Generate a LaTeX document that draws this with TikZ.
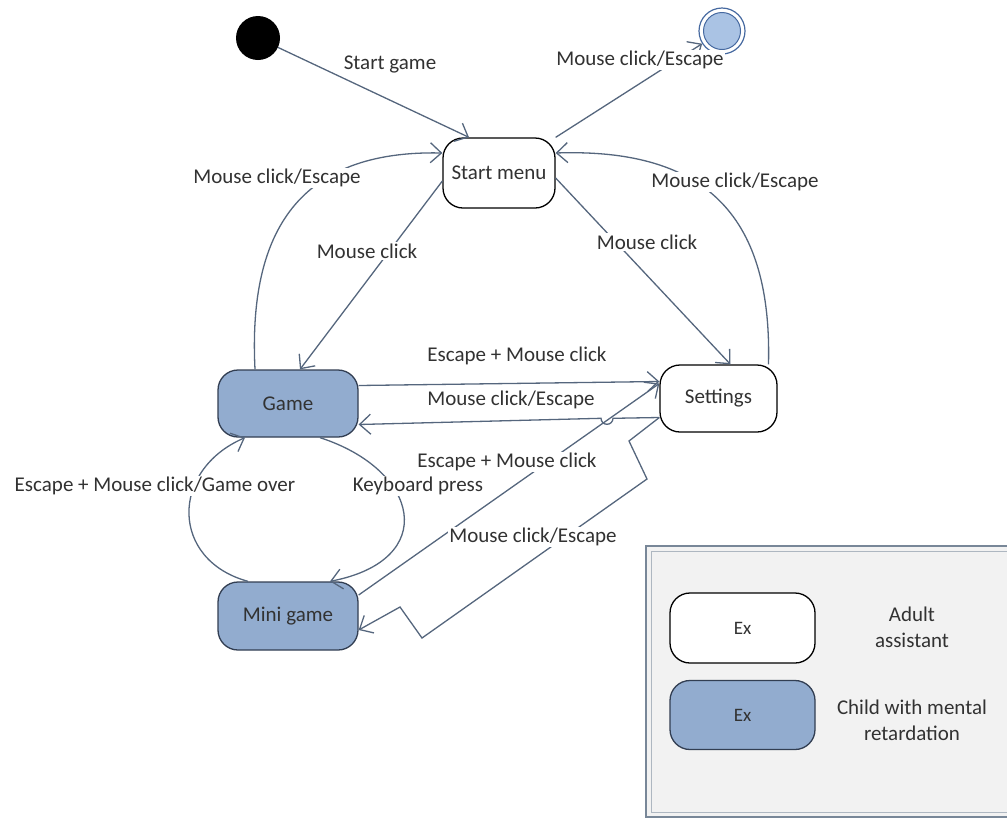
\documentclass[tikz,border=0pt]{standalone}
\usepackage{fontspec}
\setmainfont{Carlito}
\usetikzlibrary{arrows.meta}
\definecolor{stblue}{RGB}{146,172,207}
\definecolor{stborder}{RGB}{50,62,82}
\definecolor{conn}{RGB}{85,102,125}
\definecolor{txt}{RGB}{50,50,50}
\definecolor{legfill}{RGB}{242,242,242}
\definecolor{legline}{RGB}{120,135,152}
\definecolor{finfill}{RGB}{170,195,228}
\definecolor{finline}{RGB}{70,105,160}
\tikzset{
  state/.style={draw=black, line width=1.3pt, rounded corners=20pt, fill=white,
    text=txt, font=\fontsize{21}{25}\selectfont, inner sep=0pt},
  child/.style={state, fill=stblue, draw=stborder},
  lbl/.style={text=txt, font=\fontsize{21}{25}\selectfont, inner sep=1.5pt, fill=white},
  conn/.style={draw=conn, line width=1.3pt, -{Straight Barb[length=11pt,width=20pt,line width=1.3pt]}},
}
\begin{document}
\begin{tikzpicture}[x=1pt,y=-1pt]
\useasboundingbox (0,0) rectangle (1007,823);
% legend frame
\fill[legfill] (645,545) rectangle (1015,818);
\draw[legline, line width=2.2pt] (646,546) rectangle (1015,817);
\draw[legline!60, line width=1pt] (651,551) rectangle (1015,812);
% states
\node[circle, fill=black, minimum size=44pt, inner sep=0pt] (init) at (258,38) {};
\node[circle, draw=finline, line width=1.2pt, fill=white, minimum size=46pt, inner sep=0pt] (final) at (722,31) {};
\node[circle, draw=finline, line width=1pt, fill=finfill, minimum size=37pt, inner sep=0pt] (finalin) at (722,31) {};
\node[state, minimum width=112pt, minimum height=70pt] (start) at (499,173) {Start menu};
\node[child, minimum width=140pt, minimum height=67pt] (game) at (288,403.5) {Game};
\node[state, minimum width=117pt, minimum height=67pt] (settings) at (718.5,398.5) {Settings};
\node[child, minimum width=140pt, minimum height=68pt] (mini) at (288,616) {Mini game};
% legend nodes
\node[state, minimum width=145pt, minimum height=70pt, font=\fontsize{19}{23}\selectfont] (exa) at (742.5,628) {Ex};
\node[child, minimum width=145pt, minimum height=69pt, font=\fontsize{19}{23}\selectfont] (exc) at (742.5,715) {Ex};
\node[text=txt, font=\fontsize{21}{26}\selectfont, align=center] (adult) at (912,627) {Adult\\assistant};
\node[text=txt, font=\fontsize{21}{26}\selectfont, align=center] (childt) at (912,720) {Child with mental\\retardation};
% connectors
\draw[conn] (init) -- ([xshift=-30pt]start.north);
\draw[conn] (start.north east) -- (final);
\draw[conn] ([xshift=-33pt]game.north) .. controls (248,230) and (300,150) .. ([yshift=20pt]start.west);
\draw[conn] ([yshift=-8pt]start.west) -- ([xshift=12pt]game.north);
\draw[conn] ([yshift=-5pt]start.east) -- ([xshift=12pt]settings.north);
\draw[conn] ([xshift=50pt]settings.north) .. controls (772,220) and (710,148) .. ([yshift=20pt]start.east);
\draw[conn] ([yshift=18pt]game.east) -- ([yshift=17pt]settings.west);
\draw[conn] ([yshift=-19pt]settings.west) -- (613,418.3) arc[start angle=0, end angle=-180, radius=6pt] -- ([yshift=-21pt]game.east);
\draw[conn] ([xshift=32pt]game.south) .. controls (420,470) and (440,560) .. ([xshift=42pt]mini.north);
\draw[conn] ([xshift=-40pt]mini.north) .. controls (170,560) and (170,470) .. ([xshift=-43pt]game.south);
\draw[conn] ([yshift=21pt]mini.east) -- ([yshift=15pt]settings.west);
\draw[conn] ([yshift=-19pt]settings.west) -- (629,441) -- (647,479) -- (422,638) -- (400,607) -- ([yshift=-14pt]mini.east);
% labels
\node[lbl] (l1) at (390,64) {Start game};
\node[lbl] (l2) at (640,60) {Mouse click/Escape};
\node[lbl] (l3) at (277,178) {Mouse click/Escape};
\node[lbl] (l4) at (367,251) {Mouse click};
\node[lbl] (l5) at (735,182) {Mouse click/Escape};
\node[lbl] (l6) at (647,242) {Mouse click};
\node[lbl] (l7) at (517,356) {Escape + Mouse click};
\node[lbl, fill=none] (l8) at (511,400) {Mouse click/Escape};
\node[lbl] (l9) at (155,486) {Escape + Mouse click/Game over};
\node[lbl] (l10) at (418,486) {Keyboard press};
\node[lbl] (l11) at (507,462) {Escape + Mouse click};
\node[lbl] (l12) at (533,537) {Mouse click/Escape};
\end{tikzpicture}
\end{document}
